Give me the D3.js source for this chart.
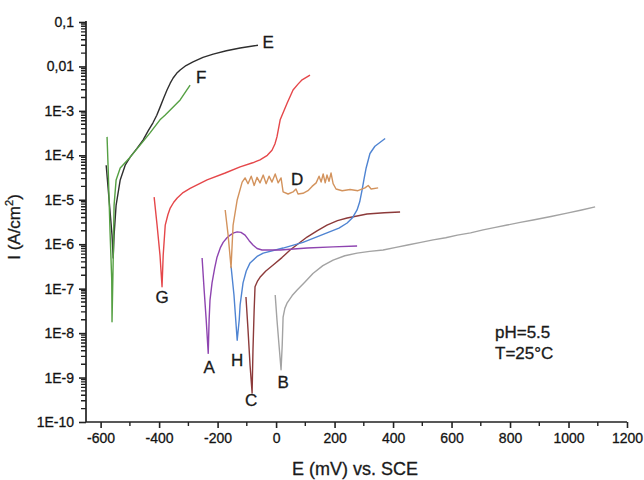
<!DOCTYPE html>
<html>
<head>
<meta charset="utf-8">
<script src="https://cdn.jsdelivr.net/npm/d3@7"></script>
<style>
  html, body { margin: 0; padding: 0; background: #fff; }
  svg text { font-family: "Liberation Sans", Arial, sans-serif; stroke: currentColor; stroke-width: 0.3px; }
</style>
</head>
<body>
<svg id="chart" width="644" height="480" style="color:#1a1a1a"></svg>
<script>
// Potentiodynamic polarization curves, potential E (mV vs. SCE) and current density I (A/cm²)
const xTickValues = [-600, -400, -200, 0, 200, 400, 600, 800, 1000, 1200];
const xMinorValues = [-500, -300, -100, 100, 300, 500, 700, 900, 1100];
const yTickValues = [1e-1, 1e-2, 1e-3, 1e-4, 1e-5, 1e-6, 1e-7, 1e-8, 1e-9, 1e-10];
const yTickLabels = ["0,1", "0,01", "1E-3", "1E-4", "1E-5", "1E-6", "1E-7", "1E-8", "1E-9", "1E-10"];
const yMinorSteps = [2, 3, 4, 5, 6, 7, 8, 9];

// [E (mV), I (A/cm²)]
const curveE = [[-581, 6.0e-5], [-571, 9.9e-6], [-561, 1.6e-6], [-557, 4.9e-7], [-554, 1.6e-6],
  [-547, 7.6e-6], [-533, 2.8e-5], [-516, 6.0e-5], [-499, 9.1e-5], [-477, 1.4e-4], [-455, 2.2e-4],
  [-437, 3.6e-4], [-421, 5.4e-4], [-408, 8.0e-4], [-397, 1.2e-3], [-385, 1.9e-3], [-373, 2.95e-3],
  [-362, 4.2e-3], [-352, 5.5e-3], [-340, 7.0e-3], [-328, 8.3e-3], [-308, 1.05e-2], [-284, 1.26e-2],
  [-250, 1.6e-2], [-215, 1.9e-2], [-170, 2.25e-2], [-123, 2.6e-2], [-62, 3.0e-2]];
const curveF = [[-578, 2.6e-4], [-574, 4.7e-5], [-568, 2.1e-6], [-562, 1.6e-7], [-561, 1.8e-8],
  [-557, 4.4e-7], [-554, 7.6e-6], [-547, 2.8e-5], [-533, 5.2e-5], [-499, 9.1e-5], [-465, 1.7e-4],
  [-431, 3.2e-4], [-397, 6.3e-4], [-379, 8.1e-4], [-328, 1.76e-3], [-294, 3.8e-3]];
const curveG = [[-417, 1.15e-5], [-407, 2.7e-6], [-397, 5.7e-7], [-390, 1.1e-7], [-386, 5.7e-7],
  [-379, 2.7e-6], [-370, 4.6e-6], [-362, 6.5e-6], [-350, 8.8e-6], [-338, 1.1e-5], [-318, 1.45e-5],
  [-294, 1.8e-5], [-236, 2.8e-5], [-174, 4.0e-5], [-123, 5.5e-5], [-80, 6.8e-5], [-55, 7.9e-5],
  [-30, 1.0e-4], [-14, 1.3e-4], [-4, 1.8e-4], [3, 2.6e-4], [14, 6.3e-4], [38, 1.5e-3],
  [58, 2.95e-3], [75, 4.0e-3], [89, 5.0e-3], [116, 6.4e-3]];
const curveD = [[-174, 5.9e-6], [-164, 1.6e-6], [-154, 3.0e-7], [-147, 2.7e-6], [-133, 9.9e-6],
  [-116, 2.5e-5], [-106, 3.1e-5], [-96, 2.3e-5], [-85, 3.4e-5], [-75, 2.1e-5], [-65, 3.2e-5],
  [-55, 2.4e-5], [-44, 3.6e-5], [-34, 2.3e-5], [-24, 3.4e-5], [-14, 2.5e-5], [-3, 3.8e-5],
  [7, 2.4e-5], [17, 3.1e-5], [24, 1.5e-5], [41, 1.35e-5], [58, 1.5e-5], [68, 1.75e-5],
  [75, 1.35e-5], [92, 1.4e-5], [109, 1.6e-5], [123, 2.0e-5], [137, 2.4e-5], [147, 3.4e-5],
  [154, 2.5e-5], [161, 3.8e-5], [168, 2.4e-5], [174, 3.6e-5], [181, 2.6e-5], [188, 4.0e-5],
  [195, 2.3e-5], [205, 1.75e-5], [226, 1.6e-5], [253, 1.7e-5], [280, 1.6e-5], [304, 1.85e-5],
  [315, 2.1e-5], [325, 1.75e-5], [349, 1.85e-5]];
const curveA = [[-253, 4.9e-7], [-246, 9.3e-8], [-239, 2.0e-8], [-232, 3.5e-9], [-229, 2.0e-8],
  [-226, 5.5e-8], [-219, 1.35e-7], [-210, 2.9e-7], [-202, 5.1e-7], [-190, 8.5e-7], [-181, 1.1e-6],
  [-168, 1.4e-6], [-157, 1.6e-6], [-145, 1.8e-6], [-133, 1.9e-6], [-120, 1.85e-6], [-106, 1.6e-6],
  [-92, 1.2e-6], [-79, 9.6e-7], [-65, 8.0e-7], [-48, 7.4e-7], [14, 7.4e-7], [106, 8.2e-7],
  [195, 8.7e-7], [277, 9.1e-7]];
const curveH = [[-154, 3.2e-7], [-144, 7.2e-8], [-133, 6.9e-9], [-126, 2.0e-8], [-123, 4.3e-8],
  [-113, 1.35e-7], [-102, 2.5e-7], [-89, 3.8e-7], [-65, 5.3e-7], [-44, 6.3e-7], [24, 8.2e-7],
  [92, 1.1e-6], [174, 1.8e-6], [215, 2.3e-6], [243, 3.0e-6], [262, 4.0e-6], [277, 5.9e-6],
  [286, 9.0e-6], [294, 1.65e-5], [301, 3.0e-5], [308, 5.2e-5], [321, 1.1e-4], [338, 1.6e-4],
  [373, 2.4e-4]];
const curveC = [[-103, 6.5e-8], [-96, 1.2e-8], [-89, 1.9e-9], [-82, 4.5e-10], [-79, 4.2e-9],
  [-75, 3.3e-8], [-72, 1.1e-7], [-63, 1.5e-7], [-55, 1.8e-7], [-35, 2.5e-7], [-10, 3.4e-7],
  [20, 5.0e-7], [48, 7.4e-7], [78, 1.05e-6], [106, 1.45e-6], [140, 2.0e-6], [174, 2.7e-6],
  [210, 3.4e-6], [243, 3.9e-6], [311, 4.8e-6], [370, 5.1e-6], [424, 5.3e-6]];
const curveB = [[-3, 7.2e-8], [3, 2.0e-8], [10, 5.4e-9], [17, 1.5e-9], [21, 5.4e-9], [24, 2.3e-8],
  [30, 3.6e-8], [38, 4.8e-8], [55, 7.0e-8], [72, 9.3e-8], [98, 1.4e-7], [126, 2.2e-7],
  [160, 3.3e-7], [195, 4.4e-7], [235, 5.5e-7], [277, 6.3e-7], [320, 6.9e-7], [366, 7.4e-7],
  [410, 8.5e-7], [450, 9.6e-7], [495, 1.1e-6], [537, 1.25e-6], [580, 1.4e-6], [620, 1.6e-6],
  [665, 1.8e-6], [708, 2.1e-6], [750, 2.4e-6], [790, 2.7e-6], [835, 3.1e-6], [879, 3.5e-6],
  [940, 4.2e-6], [995, 5.0e-6], [1045, 5.9e-6], [1091, 6.9e-6]];

const series = [
  { name: "B", data: curveB, color: "#a3a3a3" },
  { name: "C", data: curveC, color: "#8c3a3a" },
  { name: "H", data: curveH, color: "#4f84d2" },
  { name: "A", data: curveA, color: "#8e44b0" },
  { name: "D", data: curveD, color: "#d3935d" },
  { name: "G", data: curveG, color: "#e5474a" },
  { name: "E", data: curveE, color: "#2e2e2e" },
  { name: "F", data: curveF, color: "#55a043" }
];

// Curve letters: [letter, E (mV), I (A/cm²)]
const curveLabels = [["E", -27, 3.4e-2], ["F", -256, 5.5e-3], ["G", -390, 6.2e-8], ["D", 72, 2.8e-5],
  ["A", -229, 1.7e-9], ["H", -133, 2.4e-9], ["C", -85, 3.0e-10], ["B", 24, 7.9e-10]];
const conditions = ["pH=5.5", "T=25°C"];

const svg = d3.select("#chart");
const x = d3.scaleLinear().domain([-650, 1200]).range([86, 627]);
const y = d3.scaleLog().domain([1e-10, 1e-1]).range([422, 22]);

// minor ticks between decades: 2..9 × 10^n
const yMinor = yTickValues.slice(1).flatMap(base => yMinorSteps.map(m => m * base));

const axisColor = "#222";
const x0 = x.range()[0], yBase = y.range()[0];

const minorPath = yMinor.map(v => `M${x0 - 5},${y(v).toFixed(1)}H${x0}`).join("")
  + xMinorValues.map(v => `M${x(v).toFixed(1)},${yBase}V${yBase + 4}`).join("");
svg.append("path").attr("d", minorPath)
  .attr("fill", "none").attr("stroke", axisColor).attr("stroke-width", 1.4);

const gyMajor = svg.append("g").attr("transform", `translate(${x0},0)`)
  .call(d3.axisLeft(y).tickValues(yTickValues).tickSize(7).tickPadding(5)
    .tickFormat((d, i) => yTickLabels[i]));
gyMajor.select(".domain").remove();
gyMajor.selectAll("text").attr("font-size", 14).attr("fill", "#111");
gyMajor.selectAll(".tick line").attr("stroke", axisColor).attr("stroke-width", 1.6);

const gx = svg.append("g").attr("transform", `translate(0,${yBase})`)
  .call(d3.axisBottom(x).tickValues(xTickValues).tickSize(6).tickPadding(5)
    .tickFormat(d => String(d)));
gx.select(".domain").remove();
gx.selectAll("text").attr("font-size", 14).attr("fill", "#111");
gx.selectAll(".tick line").attr("stroke", axisColor).attr("stroke-width", 1.6);

// axis lines
svg.append("path")
  .attr("d", `M${x0},${y.range()[1] - 1}V${yBase}H${x.range()[1]}`)
  .attr("fill", "none").attr("stroke", axisColor).attr("stroke-width", 1.7);

// curves
const line = d3.line().x(d => x(d[0])).y(d => y(d[1]));
svg.append("g").selectAll("path").data(series).join("path")
  .attr("d", s => line(s.data))
  .attr("fill", "none")
  .attr("stroke", s => s.color)
  .attr("stroke-width", 1.4)
  .attr("stroke-linejoin", "round");

// curve letters
svg.append("g").selectAll("text").data(curveLabels).join("text")
  .attr("x", d => x(d[1])).attr("y", d => y(d[2]))
  .attr("text-anchor", "middle").attr("dominant-baseline", "central")
  .attr("font-size", 17).attr("fill", "#1a1a1a")
  .text(d => d[0]);

// test conditions
svg.append("g").selectAll("text").data(conditions).join("text")
  .attr("x", 495).attr("y", (d, i) => 338 + i * 21)
  .attr("font-size", 17).attr("fill", "#1a1a1a")
  .text(d => d);

// axis titles
svg.append("text").attr("x", 355).attr("y", 475).attr("text-anchor", "middle")
  .attr("font-size", 18).attr("fill", "#1a1a1a").text("E (mV) vs. SCE");
const yt = svg.append("text").attr("transform", "translate(20,227) rotate(-90)")
  .attr("text-anchor", "middle").attr("font-size", 17).attr("fill", "#1a1a1a");
yt.append("tspan").text("I (A/cm");
yt.append("tspan").attr("font-size", 11).attr("dy", -7).text("2");
yt.append("tspan").attr("dy", 7).text(")");
</script>
</body>
</html>
